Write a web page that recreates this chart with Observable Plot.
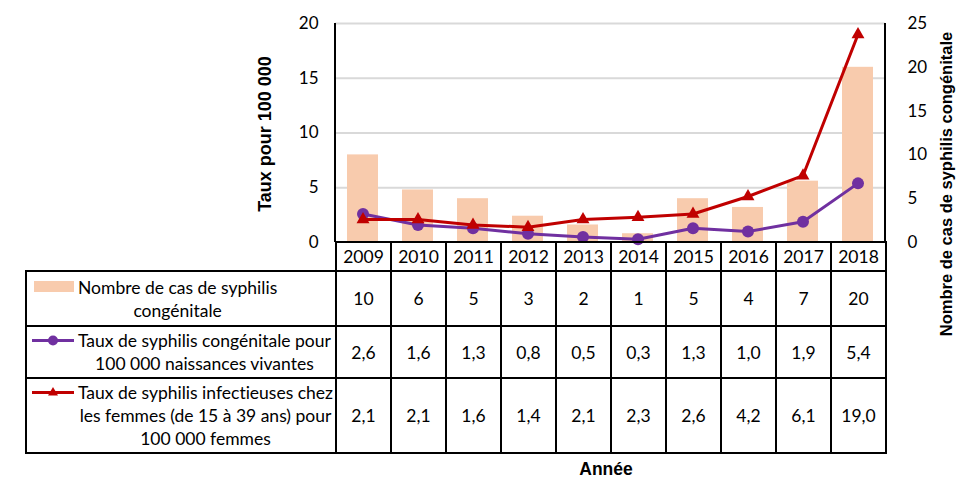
<!DOCTYPE html>
<html>
<head>
<meta charset="utf-8">
<script src="https://cdn.jsdelivr.net/npm/d3@7"></script>
<script src="https://cdn.jsdelivr.net/npm/@observablehq/plot@0.6"></script>
<style>
  body { margin: 0; background: #fff; }
  #wrap { position: relative; width: 959px; height: 487px; background: #fff; overflow: hidden; font-family: Lato, "Open Sans", sans-serif; color: #000; font-variant-ligatures: none; }
  #chart { position: absolute; left: 0; top: 0; }
  .vline { position: absolute; width: 2px; background: #000; }
  .title { position: absolute; font-family: "Liberation Sans", Arial, sans-serif; font-weight: bold; white-space: nowrap; }
  table { position: absolute; left: 25px; top: 241px; border-collapse: collapse; table-layout: fixed; font-size: 17.5px; }
  td { border: 2px solid #000; padding: 0; text-align: center; vertical-align: middle; }
  td.blank { border-left: none; border-top: none; }
  td.lab { text-align: left; padding-left: 4px; }
  .labwrap { display: flex; align-items: flex-start; }
  .sw { width: 47px; height: 23px; flex: none; }
  .labtxt { display: inline-block; text-align: center; line-height: 23px; white-space: pre; font-size: 17.5px; }
</style>
</head>
<body>
<div id="wrap"></div>
<script>
const years = [2009, 2010, 2011, 2012, 2013, 2014, 2015, 2016, 2017, 2018];
const nombreCas = [10, 6, 5, 3, 2, 1, 5, 4, 7, 20];
const tauxCongenitale = [2.6, 1.6, 1.3, 0.8, 0.5, 0.3, 1.3, 1.0, 1.9, 5.4];
const tauxFemmes = [2.1, 2.1, 1.6, 1.4, 2.1, 2.3, 2.6, 4.2, 6.1, 19.0];
const leftTicks = [0, 5, 10, 15, 20];
const rightTicks = [0, 5, 10, 15, 20, 25];
const rowLabels = [
  "Nombre de cas de syphilis\ncongénitale",
  "Taux de syphilis congénitale pour\n100 000 naissances vivantes",
  "Taux de syphilis infectieuses chez\nles femmes (de 15 à 39 ans) pour\n100 000 femmes"
];
const leftTitle = "Taux pour 100 000";
const rightTitle = "Nombre de cas de syphilis congénitale";
const xTitle = "Année";

const colors = { bar: "#F8CBAD", cong: "#7030A0", fem: "#C00000" };
const leftMax = 20, rightMax = 25;
const toLeft = v => v * leftMax / rightMax;

const data = years.map((y, i) => ({ year: y, cas: nombreCas[i], cong: tauxCongenitale[i], fem: tauxFemmes[i] }));
const frFmt = v => d3.format(".1f")(v).replace(".", ",");

const W = 959, mL = 335, mR = 74, mT = 23, yZero = 242, H = 256;

const chart = Plot.plot({
  width: W, height: H,
  marginLeft: mL, marginRight: mR, marginTop: mT, marginBottom: H - yZero,
  style: { fontFamily: "Lato, 'Open Sans', sans-serif", fontSize: "17px", color: "#000", background: "transparent" },
  x: { type: "band", domain: years, padding: 0, axis: null },
  y: { domain: [0, leftMax], axis: null },
  marks: [
    Plot.gridY(leftTicks.filter(d => d > 0), { stroke: "#d9d9d9", strokeOpacity: 1, strokeWidth: 2 }),
    Plot.barY(data, { x: "year", y: d => toLeft(d.cas), fill: colors.bar, insetLeft: 12, insetRight: 12 }),
    Plot.lineY(data, { x: "year", y: "cong", stroke: colors.cong, strokeWidth: 3 }),
    Plot.dot(data, { x: "year", y: "cong", fill: colors.cong, r: 6, symbol: "circle" }),
    Plot.lineY(data, { x: "year", y: "fem", stroke: colors.fem, strokeWidth: 3 }),
    Plot.dot(data, { x: "year", y: "fem", fill: colors.fem, r: 4.8, symbol: "triangle" }),
    Plot.axisY(leftTicks, { anchor: "left", tickSize: 0, tickPadding: 17, fontSize: 17, label: null }),
    Plot.axisY(rightTicks.map(toLeft), { anchor: "right", tickSize: 0, tickPadding: 22, fontSize: 17, label: null, tickFormat: d => Math.round(d * rightMax / leftMax) })
  ]
});
chart.id = "chart";
const wrap = document.getElementById("wrap");
wrap.appendChild(chart);

// axis lines (frame sides)
for (const x of [mL - 1, W - mR - 1]) {
  const v = document.createElement("div");
  v.className = "vline";
  v.style.left = x + "px"; v.style.top = mT + "px"; v.style.height = (yZero - mT) + "px";
  wrap.appendChild(v);
}

// titles
function addTitle(text, x, y, size, rotate) {
  const t = document.createElement("div");
  t.className = "title"; t.textContent = text;
  t.style.left = x + "px"; t.style.top = y + "px"; t.style.fontSize = size + "px";
  t.style.transform = "translate(-50%,-50%)" + (rotate ? " rotate(-90deg)" : "");
  wrap.appendChild(t);
}
addTitle(leftTitle, 265, 134, 18, true);
addTitle(rightTitle, 946, 184, 16.5, true);
addTitle(xTitle, 606, 469, 17.5, false);

// data table
const colW = (W - mL - mR) / years.length;
const swatches = [
  `<svg class="sw" width="47" height="23"><rect x="3" y="5" width="40" height="11" fill="${colors.bar}"/></svg>`,
  `<svg class="sw" width="47" height="23"><line x1="1" x2="43" y1="11.5" y2="11.5" stroke="${colors.cong}" stroke-width="3"/><circle cx="22" cy="11.5" r="5" fill="${colors.cong}"/></svg>`,
  `<svg class="sw" width="47" height="23"><line x1="1" x2="43" y1="11.5" y2="11.5" stroke="${colors.fem}" stroke-width="3"/><path d="M22,6 L27,14.5 L17,14.5 Z" fill="${colors.fem}"/></svg>`
];
const rowVals = [nombreCas.map(v => String(v)), tauxCongenitale.map(frFmt), tauxFemmes.map(frFmt)];
const rowH = [55, 52, 75];

const table = document.createElement("table");
let html = `<colgroup><col style="width:${mL - 25}px">` + years.map(() => `<col style="width:${colW}px">`).join("") + `</colgroup>`;
html += `<tr style="height:29px"><td class="blank"></td>` + years.map(y => `<td>${y}</td>`).join("") + `</tr>`;
rowLabels.forEach((lab, i) => {
  html += `<tr style="height:${rowH[i]}px"><td class="lab"><div class="labwrap">${swatches[i]}<span class="labtxt">${lab}</span></div></td>` +
    rowVals[i].map(v => `<td>${v}</td>`).join("") + `</tr>`;
});
table.innerHTML = html;
wrap.appendChild(table);
</script>
</body>
</html>
